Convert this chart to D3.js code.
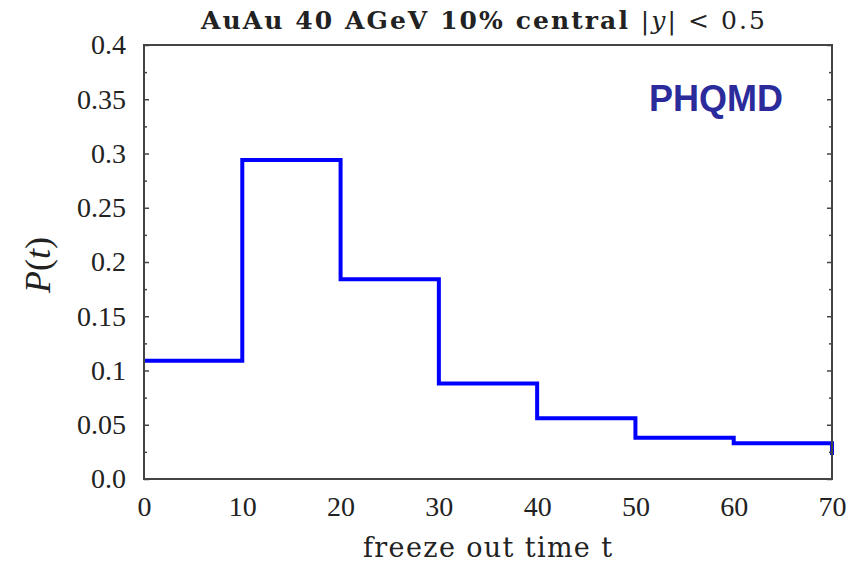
<!DOCTYPE html>
<html>
<head>
<meta charset="utf-8">
<script src="https://cdn.jsdelivr.net/npm/d3@7"></script>
<style>
  html, body { margin: 0; padding: 0; background: #fff; }
  svg { display: block; }
</style>
</head>
<body>
<svg id="chart" width="860" height="565"></svg>
<script>
// Freeze-out time histogram: lower bin edges (fm/c) and probability per bin
const binStarts = [0, 10, 20, 30, 40, 50, 60, 70];
const probs = [0.109, 0.294, 0.184, 0.088, 0.056, 0.038, 0.033, 0.024];

const xTicks = [0, 10, 20, 30, 40, 50, 60, 70];
const xTickLabels = ["0", "10", "20", "30", "40", "50", "60", "70"];
const yTicks = [0, 0.05, 0.1, 0.15, 0.2, 0.25, 0.3, 0.35, 0.4];
const yTickLabels = ["0.0", "0.05", "0.1", "0.15", "0.2", "0.25", "0.3", "0.35", "0.4"];
const yMinorTicks = [0.025, 0.075, 0.125, 0.175, 0.225, 0.275, 0.325, 0.375];

const svg = d3.select("#chart");
const margin = { left: 144, right: 28, top: 45, bottom: 86 };
const W = 860, H = 565;
const iw = W - margin.left - margin.right;
const ih = H - margin.top - margin.bottom;

const x = d3.scaleLinear().domain([0, 70]).range([0, iw]);
const y = d3.scaleLinear().domain([0, 0.4]).range([ih, 0]);

const serif = "'Liberation Serif', 'DejaVu Serif', serif";
const wideSerif = "'DejaVu Serif', 'Liberation Serif', serif";
const textColor = "#222";
const frameColor = "#444";

// Adjust letter spacing so a text element spans the given width
function fitWidth(sel, target) {
  const node = sel.node();
  const len = node.getComputedTextLength();
  const n = node.textContent.length;
  if (n > 1) sel.attr("letter-spacing", (target - len) / (n - 1));
}

const g = svg.append("g").attr("transform", `translate(${margin.left},${margin.top})`);

// Clip the histogram to the frame (slightly padded so the last edge stays visible)
svg.append("defs").append("clipPath").attr("id", "plotClip")
  .append("rect").attr("x", -2).attr("y", -2).attr("width", iw + 4).attr("height", ih + 4);

// Step histogram
const pts = binStarts.map((t, i) => [t, probs[i]]);
pts.push([binStarts[binStarts.length - 1] + 10, probs[probs.length - 1]]);
const line = d3.line()
  .x(d => x(d[0]))
  .y(d => y(d[1]))
  .curve(d3.curveStepAfter);

g.append("path")
  .attr("clip-path", "url(#plotClip)")
  .attr("d", line(pts))
  .attr("fill", "none")
  .attr("stroke", "#0000ff")
  .attr("stroke-width", 4)
  .attr("stroke-linejoin", "miter");

// Y axes (left and mirrored right) with inward ticks
const yLeft = d3.axisLeft(y).tickValues(yTicks).tickSize(-5).tickFormat((d, i) => yTickLabels[i]).tickPadding(18);
const yLeftG = g.append("g").call(yLeft);
yLeftG.select(".domain").remove();
yLeftG.selectAll(".tick line").attr("stroke", frameColor).attr("stroke-width", 1.5);
yLeftG.selectAll(".tick text")
  .attr("font-family", serif).attr("font-size", 28).attr("fill", textColor);

const yLeftMinor = g.append("g").call(d3.axisLeft(y).tickValues(yMinorTicks).tickSize(-3).tickFormat(""));
yLeftMinor.select(".domain").remove();
yLeftMinor.selectAll(".tick line").attr("stroke", frameColor).attr("stroke-width", 1.5);

const yRight = g.append("g").attr("transform", `translate(${iw},0)`)
  .call(d3.axisRight(y).tickValues(yTicks).tickSize(-5).tickFormat(""));
yRight.select(".domain").remove();
yRight.selectAll(".tick line").attr("stroke", frameColor).attr("stroke-width", 1.5);

const yRightMinor = g.append("g").attr("transform", `translate(${iw},0)`)
  .call(d3.axisRight(y).tickValues(yMinorTicks).tickSize(-3).tickFormat(""));
yRightMinor.select(".domain").remove();
yRightMinor.selectAll(".tick line").attr("stroke", frameColor).attr("stroke-width", 1.5);

// X axis labels (no tick marks)
const xAxis = d3.axisBottom(x).tickValues(xTicks).tickSize(0).tickPadding(17).tickFormat((d, i) => xTickLabels[i]);
const xG = g.append("g").attr("transform", `translate(0,${ih})`).call(xAxis);
xG.select(".domain").remove();
xG.selectAll(".tick text")
  .attr("font-family", serif).attr("font-size", 28).attr("fill", textColor);

// Frame
g.append("rect")
  .attr("x", 0).attr("y", 0).attr("width", iw).attr("height", ih)
  .attr("fill", "none").attr("stroke", frameColor).attr("stroke-width", 2);

// Axis titles
const xt = svg.append("text")
  .attr("x", 363).attr("y", 557)
  .attr("font-family", wideSerif).attr("font-size", 27).attr("fill", textColor)
  .text("freeze out time t");
fitWidth(xt, 249);

const yl = svg.append("text")
  .attr("transform", `translate(50,265) rotate(-90)`)
  .attr("text-anchor", "middle")
  .attr("font-family", serif).attr("font-size", 36).attr("fill", textColor);
yl.append("tspan").attr("font-style", "italic").text("P");
yl.append("tspan").text("(");
yl.append("tspan").attr("font-style", "italic").text("t");
yl.append("tspan").text(")");

// Title
const title = svg.append("text")
  .attr("x", 201).attr("y", 29)
  .attr("font-family", wideSerif).attr("font-size", 25).attr("fill", textColor);
title.append("tspan").attr("font-weight", "bold").text("AuAu 40 AGeV 10% central ");
title.append("tspan").text("|");
title.append("tspan").attr("font-style", "italic").text("y");
title.append("tspan").text("| < 0.5");
fitWidth(title, 564);

// Model label
svg.append("text")
  .attr("x", 716).attr("y", 111)
  .attr("text-anchor", "middle")
  .attr("font-family", "'Liberation Sans', Arial, sans-serif")
  .attr("font-weight", "bold").attr("font-size", 36)
  .attr("fill", "#2b2b9b")
  .text("PHQMD");
</script>
</body>
</html>
